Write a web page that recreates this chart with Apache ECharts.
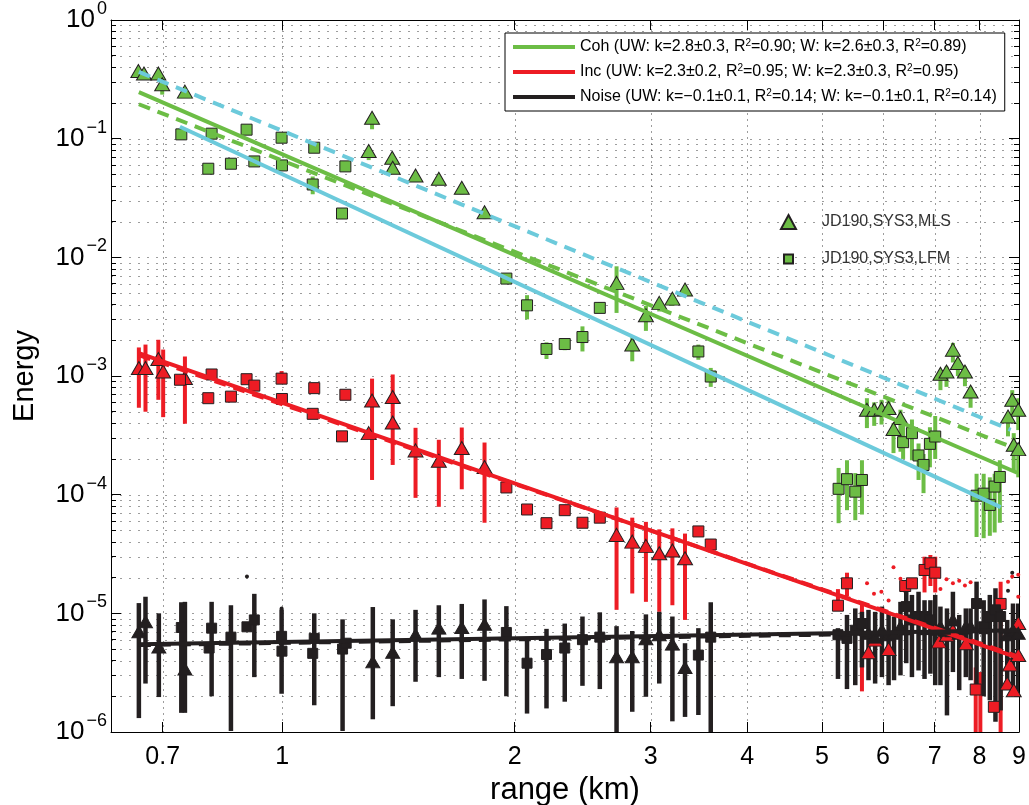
<!DOCTYPE html>
<html>
<head>
<meta charset="utf-8">
<title>Energy vs range</title>
<script src="https://cdn.jsdelivr.net/npm/echarts@6/dist/echarts.min.js"></script>
<style>
html, body { margin: 0; padding: 0; background: #fff; }
#chart { width: 1029px; height: 805px; }
</style>
</head>
<body>
<div id="chart"></div>
<script>
// ---------- axes ----------
const xRange = [0.6, 9];
const yRange = [1e-6, 1];
const xTickValues = [0.7, 1, 2, 3, 4, 5, 6, 7, 8, 9];
const yTickValues = [1e-6, 1e-5, 1e-4, 1e-3, 1e-2, 1e-1, 1];
const minorMultipliers = [2, 3, 4, 5, 6, 7, 8, 9];

// ---------- coherent energy (green) : [range km, energy] ----------
const cohMLS = [
  [0.651, 0.372], [0.662, 0.354], [0.691, 0.354], [0.699, 0.287], [0.748, 0.249],
  [1.307, 0.150], [1.294, 0.0786], [1.388, 0.0691], [1.390, 0.0569], [1.488, 0.0490],
  [1.595, 0.0460], [1.708, 0.0386], [1.828, 0.0240],
  [2.710, 6.09e-3], [2.958, 3.25e-3], [2.840, 1.84e-3], [3.078, 4.13e-3], [3.201, 4.49e-3], [3.324, 5.35e-3],
  [5.718, 5.20e-4], [5.844, 5.20e-4], [5.973, 5.29e-4], [6.10, 5.37e-4], [6.32, 4.42e-4], [6.19, 3.57e-4],
  [7.39, 1.667e-3], [7.50, 1.288e-3], [7.12, 1.046e-3], [7.25, 1.093e-3], [7.66, 1.093e-3], [7.79, 7.41e-4],
  [8.82, 6.31e-4], [8.98, 5.2e-4], [8.71, 4.56e-4], [8.86, 2.63e-4], [8.98, 2.42e-4]
];
// [range km, low, high]
const cohMLSErr = [
  [0.699, 0.235, 0.30], [1.307, 0.12, 0.15], [1.294, 0.066, 0.08], [1.708, 0.034, 0.039], [1.828, 0.021, 0.024],
  [2.710, 3.4e-3, 8.4e-3], [2.958, 2.4e-3, 3.9e-3], [2.840, 1.33e-3, 2.16e-3], [3.078, 3.5e-3, 4.3e-3], [3.201, 3.9e-3, 4.6e-3],
  [5.718, 3.64e-4, 6.5e-4], [5.844, 3.8e-4, 6.0e-4], [5.973, 3.9e-4, 6.3e-4], [6.10, 4.5e-4, 6.3e-4], [6.19, 2.24e-4, 4.0e-4], [6.32, 2.3e-4, 5.2e-4],
  [7.39, 1.3e-3, 1.9e-3], [7.50, 1.0e-3, 1.4e-3], [7.12, 7.6e-4, 1.1e-3], [7.25, 8.1e-4, 1.2e-3], [7.66, 8.2e-4, 1.2e-3], [7.79, 5.4e-4, 8.1e-4],
  [8.82, 4.6e-4, 7.6e-4], [8.98, 3.5e-4, 6.5e-4], [8.71, 3.1e-4, 4.9e-4], [8.86, 1.6e-4, 3.3e-4], [8.98, 1.4e-4, 2.7e-4]
];
const cohLFM = [
  [0.740, 0.1087], [0.810, 0.1102], [0.899, 0.1191], [0.998, 0.1019], [1.100, 0.0839], [1.207, 0.0584],
  [0.802, 0.0558], [0.858, 0.0615], [0.920, 0.0643], [0.999, 0.0595], [1.095, 0.0411], [1.195, 0.0234],
  [1.951, 6.62e-3], [2.075, 3.94e-3], [2.199, 1.69e-3], [2.322, 1.86e-3], [2.448, 2.13e-3], [2.578, 3.75e-3],
  [3.459, 1.61e-3], [3.589, 9.9e-4],
  [5.255, 1.12e-4], [5.388, 1.35e-4], [5.523, 1.06e-4], [5.634, 1.33e-4],
  [6.37, 2.77e-4], [6.54, 3.30e-4], [6.67, 2.14e-4], [6.77, 1.78e-4], [6.90, 2.68e-4], [7.01, 3.09e-4],
  [7.93, 9.8e-5], [8.10, 1.02e-4], [8.25, 8.2e-5], [8.37, 1.17e-4], [8.50, 1.41e-4]
];
const cohLFMErr = [
  [1.095, 0.034, 0.048], [2.075, 3.0e-3, 4.8e-3], [2.199, 1.39e-3, 1.92e-3], [2.322, 1.65e-3, 2.0e-3],
  [2.448, 1.61e-3, 2.62e-3], [2.578, 3.4e-3, 4.2e-3], [3.459, 1.37e-3, 1.84e-3], [3.589, 8.1e-4, 1.17e-3],
  [5.255, 5.75e-5, 1.68e-4], [5.388, 7.4e-5, 1.95e-4], [5.523, 6.1e-5, 1.52e-4], [5.634, 6.8e-5, 1.95e-4],
  [6.37, 2.0e-4, 4.0e-4], [6.54, 1.95e-4, 4.3e-4], [6.67, 1.33e-4, 2.7e-4], [6.77, 1.03e-4, 2.2e-4],
  [6.90, 1.7e-4, 3.7e-4], [7.01, 2.0e-4, 4.6e-4],
  [7.93, 4.4e-5, 1.5e-4], [8.10, 4.3e-5, 1.5e-4], [8.25, 4.5e-5, 1.4e-4], [8.37, 4.8e-5, 1.5e-4], [8.50, 5.8e-5, 1.95e-4]
];

// ---------- incoherent energy (red) ----------
const incMLS = [
  [0.652, 1.168e-3], [0.665, 1.168e-3], [0.691, 1.391e-3], [0.701, 1.093e-3], [0.748, 9.62e-4],
  [1.307, 6.22e-4], [1.294, 3.30e-4], [1.390, 6.65e-4], [1.390, 4.06e-4], [1.488, 2.36e-4],
  [1.595, 1.93e-4], [1.708, 2.47e-4], [1.828, 1.71e-4],
  [2.710, 4.58e-5], [2.840, 4.02e-5], [2.958, 3.70e-5], [3.078, 3.21e-5], [3.201, 3.38e-5], [3.324, 2.91e-5],
  [5.745, 4.7e-6], [5.86, 6.0e-6], [6.10, 5.0e-6], [7.09, 5.8e-6], [7.26, 6.6e-6], [7.39, 7.2e-6],
  [7.68, 5.6e-6], [8.69, 2.56e-6], [8.76, 3.7e-6], [8.86, 2.25e-6], [8.98, 4.45e-6], [8.98, 8.3e-6]
];
const incMLSErr = [
  [0.652, 5.4e-4, 1.74e-3], [0.665, 5.0e-4, 1.84e-3], [0.691, 6.3e-4, 2.02e-3], [0.701, 4.5e-4, 1.67e-3], [0.748, 3.96e-4, 1.46e-3],
  [1.307, 1.33e-4, 9.5e-4], [1.390, 1.78e-4, 1.03e-3], [1.488, 9.4e-5, 3.66e-4], [1.595, 7.9e-5, 2.9e-4],
  [1.708, 1.11e-4, 3.68e-4], [1.828, 5.8e-5, 2.75e-4],
  [2.710, 1.07e-5, 7.8e-5], [2.840, 1.47e-5, 6.4e-5], [2.958, 1.25e-5, 5.9e-5], [3.078, 1.03e-5, 5.1e-5],
  [3.201, 1.17e-5, 5.2e-5], [3.324, 8.8e-6, 4.7e-5]
];
const incLFM = [
  [0.737, 9.3e-4], [0.810, 1.03e-3], [0.899, 9.4e-4], [0.998, 9.5e-4], [1.100, 7.9e-4], [1.207, 6.95e-4],
  [0.802, 6.5e-4], [0.858, 6.7e-4], [0.920, 8.3e-4], [0.999, 6.4e-4], [1.095, 4.8e-4], [1.195, 3.1e-4],
  [1.951, 1.15e-4], [2.075, 7.5e-5], [2.199, 5.75e-5], [2.322, 7.4e-5], [2.448, 5.8e-5], [2.578, 6.4e-5],
  [3.459, 4.9e-5], [3.589, 3.8e-5],
  [5.245, 1.16e-5], [5.388, 1.79e-5], [6.41, 1.70e-5], [6.54, 1.79e-5], [6.79, 2.32e-5], [6.91, 2.64e-5], [7.01, 2.2e-5],
  [7.91, 2.28e-6], [8.35, 1.63e-6], [8.52, 1.2e-5]
];
const incLFMErr = [
  [0.737, 8.6e-4, 1.0e-3], [0.998, 8.8e-4, 1.1e-3], [1.100, 7.4e-4, 8.4e-4], [1.951, 1.05e-4, 1.25e-4],
  [2.199, 5.3e-5, 6.2e-5], [2.448, 5.3e-5, 6.3e-5], [3.459, 4.5e-5, 5.3e-5], [3.589, 3.5e-5, 4.1e-5],
  [5.245, 1.05e-5, 1.6e-5], [5.388, 1.4e-5, 2.2e-5], [5.634, 2.2e-6, 1.25e-5], [6.41, 1.5e-5, 1.9e-5],
  [6.79, 1.5e-5, 3.0e-5], [6.91, 1.7e-5, 3.1e-5], [7.01, 1.5e-5, 3.0e-5],
  [7.91, 1e-6, 3.5e-6], [8.02, 1e-6, 3.2e-6], [8.52, 1e-6, 1.85e-5]
];
const incDots = [
  [5.72, 1.79e-5], [5.84, 1.46e-5], [5.97, 1.52e-5], [6.10, 1.28e-5], [6.19, 2.44e-5], [6.32, 1.96e-5],
  [7.12, 1.6e-5], [7.25, 1.94e-5], [7.39, 1.79e-5], [7.53, 1.88e-5], [7.66, 1.72e-5], [7.79, 1.83e-5],
  [8.71, 1.85e-5], [8.82, 2.04e-5], [8.98, 2.11e-5], [8.98, 1.38e-5]
];

// ---------- noise (black) ----------
const noiseMLS = [
  [0.652, 7.0e-6], [0.665, 8.5e-6], [0.692, 5.2e-6], [0.748, 3.4e-6], [1.310, 3.9e-6], [1.390, 4.7e-6],
  [1.488, 6.6e-6], [1.595, 7.5e-6], [1.708, 7.6e-6], [1.828, 8.1e-6], [2.710, 4.3e-6], [2.840, 4.3e-6],
  [2.958, 6.1e-6], [3.078, 6.6e-6], [3.201, 5.5e-6], [3.324, 3.5e-6],
  [5.745, 6.8e-6], [5.86, 6.3e-6], [5.98, 7.2e-6], [6.10, 6.6e-6], [6.20, 6.8e-6], [6.32, 7.7e-6],
  [7.12, 7.7e-6], [7.26, 7.2e-6], [7.39, 8.8e-6], [7.53, 6.8e-6], [7.68, 7.7e-6], [7.79, 7.7e-6],
  [8.69, 6.6e-6], [8.84, 7.2e-6], [8.98, 6.8e-6]
];
const noiseMLSErr = [
  [0.652, 1.31e-6, 1.22e-5], [0.665, 2.56e-6, 1.38e-5], [0.692, 1.97e-6, 1.0e-5], [0.748, 1.45e-6, 1.25e-5],
  [1.310, 1.28e-6, 1.13e-5], [1.390, 1.65e-6, 8.9e-6], [1.488, 2.65e-6, 1.07e-5], [1.595, 2.9e-6, 1.17e-5],
  [1.708, 2.8e-6, 1.2e-5], [1.828, 2.7e-6, 1.31e-5], [2.710, 1.0e-6, 7.8e-6], [2.840, 1.48e-6, 7.1e-6],
  [2.958, 1.98e-6, 9.8e-6], [3.078, 2.56e-6, 1.03e-5], [3.201, 1.23e-6, 9.4e-6], [3.324, 1.34e-6, 5.6e-6],
  [5.745, 2.73e-6, 1.07e-5], [5.86, 2.56e-6, 1.03e-5], [5.98, 2.9e-6, 1.14e-5], [6.10, 2.48e-6, 1.03e-5],
  [6.20, 2.73e-6, 9.4e-6], [6.32, 3.0e-6, 1.25e-5], [7.12, 2.48e-6, 1.14e-5], [7.26, 1.38e-6, 1.10e-5],
  [7.39, 3.2e-6, 1.52e-5], [7.53, 2.25e-6, 9.7e-6], [7.68, 2.9e-6, 1.10e-5], [7.79, 2.73e-6, 1.10e-5],
  [8.69, 2.4e-6, 8.8e-6], [8.84, 2.1e-6, 1.21e-5], [8.98, 2.1e-6, 1.21e-5]
];
const noiseLFM = [
  [0.740, 7.6e-6], [0.804, 5.1e-6], [0.810, 7.5e-6], [0.858, 6.3e-6], [0.900, 7.7e-6], [0.920, 8.8e-6],
  [0.998, 6.4e-6], [0.999, 4.8e-6], [1.100, 6.15e-6], [1.095, 4.6e-6], [1.197, 5.0e-6], [1.210, 5.6e-6],
  [1.951, 6.9e-6], [2.075, 3.8e-6], [2.199, 4.5e-6], [2.322, 5.1e-6], [2.448, 6.0e-6], [2.578, 6.3e-6],
  [3.459, 4.45e-6], [3.589, 6.3e-6],
  [5.245, 6.6e-6], [5.388, 6.15e-6], [5.523, 7.2e-6], [5.634, 8.2e-6], [6.43, 1.14e-5], [6.54, 8.8e-6],
  [6.67, 9.4e-6], [6.79, 9.4e-6], [6.91, 8.8e-6], [7.01, 7.2e-6], [7.93, 1.21e-5], [8.10, 7.7e-6],
  [8.25, 9.4e-6], [8.39, 1.07e-5], [8.52, 9.4e-6]
];
const noiseLFMErr = [
  [0.740, 1.45e-6, 1.24e-5], [0.810, 2.0e-6, 1.25e-5], [0.858, 1.02e-6, 1.17e-5], [0.920, 2.9e-6, 1.46e-5],
  [0.998, 2.1e-6, 1.08e-5], [1.100, 1.68e-6, 1.0e-5], [1.197, 1.02e-6, 8.9e-6],
  [1.951, 2.0e-6, 1.15e-5], [2.075, 1.43e-6, 6.0e-6], [2.199, 1.58e-6, 7.4e-6], [2.322, 1.8e-6, 8.2e-6],
  [2.448, 2.45e-6, 9.4e-6], [2.578, 2.3e-6, 1.02e-5], [3.459, 1.39e-6, 7.5e-6], [3.589, 1.0e-6, 1.24e-5],
  [5.245, 2.8e-6, 7.5e-6], [5.388, 2.3e-6, 9.7e-6], [5.523, 2.48e-6, 1.10e-5], [5.634, 3.5e-6, 1.03e-5],
  [6.43, 3.8e-6, 1.52e-5], [6.54, 2.9e-6, 1.43e-5], [6.67, 3.3e-6, 1.52e-5], [6.79, 2.8e-6, 1.29e-5],
  [6.91, 3.1e-6, 1.29e-5], [7.01, 2.48e-6, 1.43e-5], [7.93, 2.48e-6, 1.85e-5], [8.10, 2.0e-6, 1.29e-5],
  [8.25, 1.85e-6, 1.43e-5], [8.39, 1.22e-6, 1.63e-5], [8.52, 1.52e-6, 1.29e-5]
];
const noiseDots = [[0.900, 2.04e-5], [0.998, 1.1e-5], [8.82, 2.2e-5], [8.71, 1.55e-5]];

// ---------- power-law fits (end points of each straight log-log line) ----------
const cohFitUW = [[0.652, 0.247], [8.95, 1.53e-4]];
const cohFitW = [[0.652, 0.195], [8.86, 2.48e-4]];
const incFitUW = [[0.652, 1.56e-3], [9.0, 4.2e-6]];
const incFitW = [[0.652, 1.50e-3], [9.0, 4.3e-6]];
const noiseFitUW = [[0.652, 5.5e-6], [9.0, 7.2e-6]];
const noiseFitW = [[0.652, 5.4e-6], [9.0, 7.0e-6]];
const refFitSolid = [[0.737, 0.126], [8.52, 7.85e-5]];
const refFitDashed = [[0.652, 0.365], [8.78, 3.52e-4]];

const legendLabels = {
  'Coh': 'Coh (UW: k=2.8±0.3, R{s|2}=0.90; W: k=2.6±0.3, R{s|2}=0.89)',
  'Inc': 'Inc (UW: k=2.3±0.2, R{s|2}=0.95; W: k=2.3±0.3, R{s|2}=0.95)',
  'Noise': 'Noise (UW: k=\u22120.1±0.1, R{s|2}=0.14; W: k=\u22120.1±0.1, R{s|2}=0.14)'
};
const titleText = 'Spreading exponents,';

// ---------- styling ----------
const FONT = "'Liberation Sans', Arial, Helvetica, sans-serif";
const GREEN = '#6cbd45', CYAN = '#6ccadb', RED = '#ed1c24', BLACK = '#231f20';

const yMinorValues = [];
yTickValues.slice(0, -1).forEach(d => minorMultipliers.forEach(m => yMinorValues.push(+(d * m).toPrecision(2))));
const yGridValues = yTickValues.concat(yMinorValues);

function gridLines(values, vertical) {
  return {
    type: 'custom', silent: true, z: 0, clip: true,
    data: values.map(v => vertical ? [v, 1e-3] : [1, v]),
    encode: { x: 0, y: 1 },
    renderItem: (params, api) => {
      const a = vertical ? api.coord([api.value(0), yRange[0]]) : api.coord([xRange[0], api.value(1)]);
      const b = vertical ? api.coord([api.value(0), yRange[1]]) : api.coord([xRange[1], api.value(1)]);
      const ax = Math.round(a[0]) + 0.5, ay = Math.round(a[1]) + 0.5;
      const bx = Math.round(b[0]) + 0.5, by = Math.round(b[1]) + 0.5;
      return {
        type: 'line',
        shape: vertical ? { x1: ax, y1: ay, x2: ax, y2: by } : { x1: ax, y1: ay, x2: bx, y2: ay },
        style: { stroke: '#3a3a3a', lineWidth: 1, lineDash: vertical ? [1, 5] : [1, 8] }
      };
    }
  };
}

function errorBars(name, data, color, width) {
  return {
    type: 'custom', name, silent: true, z: 2, clip: true, data,
    encode: { x: 0, y: [1, 2] },
    renderItem: (params, api) => {
      const lo = api.coord([api.value(0), api.value(1)]);
      const hi = api.coord([api.value(0), api.value(2)]);
      return {
        type: 'line',
        shape: { x1: lo[0], y1: lo[1], x2: hi[0], y2: hi[1] },
        style: { stroke: color, lineWidth: width }
      };
    }
  };
}

function markers(name, data, symbol, size, fill, border, z) {
  return {
    type: 'scatter', name, data, symbol, symbolSize: size, clip: false, silent: true, z: z || 3,
    itemStyle: { color: fill, borderColor: border, borderWidth: border ? 1 : 0, opacity: 1 }
  };
}

function fitLine(name, data, color, dashed, width) {
  return {
    type: 'line', name, data, symbol: 'none', silent: true, z: 5,
    lineStyle: { color, width, type: dashed ? [12, 8] : 'solid', cap: 'butt' },
    itemStyle: { color }
  };
}

const chart = echarts.init(document.getElementById('chart'), null, { renderer: 'canvas' });

const supLabel = v => {
  const e = Math.round(Math.log10(v));
  return '{b|10}{s|' + (e < 0 ? '\u2212' + (-e) : String(e)) + '}';
};

const tickAxisCommon = {
  type: 'log', logBase: 10, splitLine: { show: false }, axisLabel: { show: false },
  axisLine: { show: false }
};

chart.setOption({
  animation: false,
  backgroundColor: '#ffffff',
  textStyle: { fontFamily: FONT },
  // large figure title; only its lowest part falls inside the page
  graphic: [{
    type: 'text', x: -36, y: -12, silent: true, z: 10,
    style: {
      text: titleText, font: 'bold 55px ' + FONT, fill: '#000',
      lineHeight: 55, verticalAlign: 'bottom', align: 'left'
    }
  }],
  grid: { left: 111, top: 20, width: 908, height: 712, containLabel: false, outerBoundsMode: 'none' },
  xAxis: [
    {
      type: 'log', logBase: 10, min: xRange[0], max: xRange[1], position: 'bottom',
      name: 'range (km)', nameLocation: 'middle', nameGap: 23,
      nameTextStyle: { fontSize: 31, color: '#000', fontFamily: FONT },
      axisLine: { show: true, onZero: false, lineStyle: { color: '#000', width: 1 } },
      axisTick: { show: true, inside: true, length: 10, customValues: xTickValues, lineStyle: { color: '#000' } },
      axisLabel: {
        customValues: xTickValues, margin: 13, fontSize: 25, color: '#000', fontFamily: FONT,
        formatter: v => String(parseFloat((+v).toPrecision(3)))
      },
      splitLine: { show: false }
    },
    Object.assign({}, tickAxisCommon, {
      min: xRange[0], max: xRange[1], position: 'top',
      axisLine: { show: true, onZero: false, lineStyle: { color: '#000', width: 1 } },
      axisTick: { show: true, inside: true, length: 10, customValues: xTickValues, lineStyle: { color: '#000' } }
    })
  ],
  yAxis: [
    {
      type: 'log', logBase: 10, min: yRange[0], max: yRange[1], position: 'left',
      name: 'Energy', nameLocation: 'middle', nameGap: 72,
      nameTextStyle: { fontSize: 29, color: '#000', fontFamily: FONT },
      axisLine: { show: true, onZero: false, lineStyle: { color: '#000', width: 1 } },
      axisTick: { show: true, inside: true, length: 10, customValues: yTickValues, lineStyle: { color: '#000' } },
      axisLabel: {
        customValues: yTickValues, margin: 4, formatter: supLabel,
        rich: {
          b: { fontSize: 26, color: '#000', fontFamily: FONT, lineHeight: 40, verticalAlign: 'middle' },
          s: { fontSize: 18, color: '#000', fontFamily: FONT, lineHeight: 18, verticalAlign: 'top', padding: [0, 0, 0, 2] }
        }
      },
      splitLine: { show: false }
    },
    Object.assign({}, tickAxisCommon, {
      min: yRange[0], max: yRange[1], position: 'left',
      axisTick: { show: true, inside: true, length: 5, customValues: yMinorValues, lineStyle: { color: '#000' } }
    }),
    Object.assign({}, tickAxisCommon, {
      min: yRange[0], max: yRange[1], position: 'right',
      axisLine: { show: true, onZero: false, lineStyle: { color: '#000', width: 1 } },
      axisTick: { show: true, inside: true, length: 10, customValues: yTickValues, lineStyle: { color: '#000' } }
    }),
    Object.assign({}, tickAxisCommon, {
      min: yRange[0], max: yRange[1], position: 'right',
      axisTick: { show: true, inside: true, length: 5, customValues: yMinorValues, lineStyle: { color: '#000' } }
    })
  ],
  legend: [
    {
      data: ['Coh', 'Inc', 'Noise'], orient: 'vertical', left: 505, top: 33,
      padding: [5, 8, 5, 8], itemGap: 7, itemWidth: 62, itemHeight: 4, icon: 'rect',
      borderColor: '#000', borderWidth: 1, backgroundColor: '#fff', selectedMode: false,
      formatter: name => legendLabels[name],
      textStyle: {
        fontSize: 16, color: '#000', fontFamily: FONT, lineHeight: 18,
        rich: { s: { fontSize: 10, lineHeight: 10, verticalAlign: 'top', color: '#000', fontFamily: FONT } }
      }
    },
    {
      data: [
        { name: 'JD190,SYS3,MLS' },
        // square drawn smaller than the triangle inside the same icon box
        { name: 'JD190,SYS3,LFM', icon: 'path://M0,0M3,2.5h9v9h-9zM15,14' }
      ],
      orient: 'vertical', left: 775, top: 209,
      itemGap: 21, itemWidth: 15, itemHeight: 14, selectedMode: false,
      textStyle: { fontSize: 16, color: '#333', fontFamily: FONT, padding: [0, 0, 0, 21] }
    }
  ],
  series: [
    gridLines(yGridValues, false),
    gridLines(xTickValues, true),

    errorBars('cohMLSErr', cohMLSErr, GREEN, 4),
    errorBars('cohLFMErr', cohLFMErr, GREEN, 4),
    errorBars('incMLSErr', incMLSErr, RED, 4),
    errorBars('incLFMErr', incLFMErr, RED, 4),
    errorBars('noiseMLSErr', noiseMLSErr, BLACK, 4.5),
    errorBars('noiseLFMErr', noiseLFMErr, BLACK, 4.5),

    markers('JD190,SYS3,MLS', cohMLS, 'triangle', [15, 13], GREEN, BLACK),
    markers('JD190,SYS3,LFM', cohLFM, 'rect', 11, GREEN, BLACK),
    markers('Inc MLS', incMLS, 'triangle', [15, 13], RED, BLACK),
    markers('Inc LFM', incLFM, 'rect', 11, RED, BLACK),
    markers('Inc pts', incDots, 'circle', 4, RED, null),
    markers('Noise MLS', noiseMLS, 'triangle', [14, 12], BLACK, BLACK),
    markers('Noise LFM', noiseLFM, 'rect', 10, BLACK, BLACK),
    markers('Noise pts', noiseDots, 'circle', 4, BLACK, null),

    fitLine('Ref W', refFitDashed, CYAN, true, 4),
    fitLine('Ref UW', refFitSolid, CYAN, false, 4),
    fitLine('Coh W', cohFitW, GREEN, true, 4),
    fitLine('Coh', cohFitUW, GREEN, false, 4),
    fitLine('Inc W', incFitW, RED, true, 4),
    fitLine('Inc', incFitUW, RED, false, 4),
    fitLine('Noise W', noiseFitW, BLACK, true, 4),
    fitLine('Noise', noiseFitUW, BLACK, false, 4)
  ]
});
</script>
</body>
</html>
